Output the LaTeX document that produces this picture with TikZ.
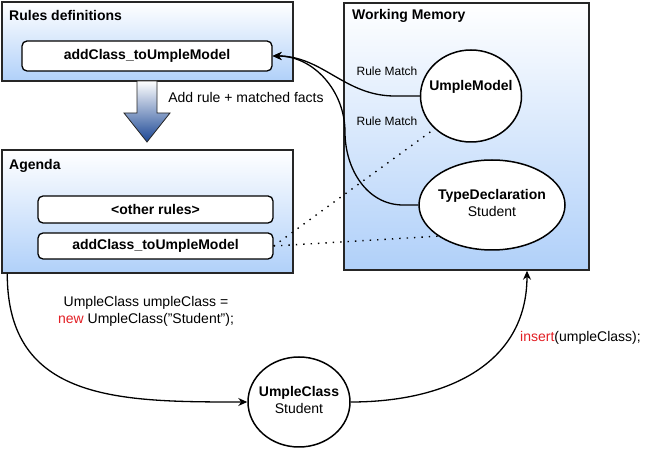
\documentclass[tikz,border=0pt]{standalone}
\usepackage{fontspec}
\setmainfont{Liberation Sans}
\usetikzlibrary{arrows.meta,shapes.geometric}
\definecolor{boxblue}{RGB}{176,208,249}
\definecolor{arrowblue}{RGB}{26,70,148}
\definecolor{codered}{RGB}{226,30,36}
\newcommand{\normalfnt}{\fontsize{14}{17}\selectfont}
\newcommand{\factname}[2]{\makebox[0pt]{\begin{tabular}{@{}c@{}}\textbf{#1}\\#2\end{tabular}}}
\tikzset{
	panel/.style={draw=black!85, line width=1.5pt, top color=white, bottom color=boxblue, inner sep=0pt},
	rulebox/.style={draw, line width=1.3pt, fill=white, rounded corners=5pt, inner sep=0pt, font=\normalfnt\bfseries},
	fact/.style={draw, line width=1.5pt, fill=white, ellipse, inner sep=0pt, font=\normalfnt},
	paneltitle/.style={anchor=west, inner sep=0pt, font=\normalfnt\bfseries},
	rmatch/.style={font=\fontsize{12}{14}\selectfont},
	link/.style={line width=1.3pt, -{Stealth[length=9pt,width=8pt]}},
	match/.style={line width=1.4pt, dash pattern=on 1.4pt off 6pt},
}

\begin{document}
\begin{tikzpicture}[x=1pt, y=1pt, font=\normalfnt]
			%%%%% START %%%%%
			\useasboundingbox (0, 0) rectangle (646, 450);
			
			% rules definitions
			\node[panel, minimum width=291pt, minimum height=79pt] (rules) at (147.5, 408.5) {};
			\node[paneltitle] (rulestitle) at (9, 434) {Rules definitions};
			\node[rulebox, minimum width=250pt, minimum height=30pt] (rdef) at (147, 394) {addClass\_toUmpleModel};
			
			\shade[top color=white, bottom color=arrowblue, draw=black!85, line width=0.8pt] (137, 369) -- (157, 369) -- (157, 337) -- (170, 337) -- (147, 308) -- (124, 337) -- (137, 337) -- cycle;
			\node (addlbl) at (246, 353) {Add rule + matched facts};
			
			% agenda
			\node[panel, minimum width=291pt, minimum height=123pt] (agenda) at (147.5, 238.5) {};
			\node[paneltitle] (agendatitle) at (9, 284) {Agenda};
			\node[rulebox, minimum width=235pt, minimum height=27pt] (aother) at (155.5, 240.5) {<other rules>};
			\node[rulebox, minimum width=235pt, minimum height=26pt] (aadd) at (155.5, 204) {addClass\_toUmpleModel};
			
			% working memory
			\node[panel, minimum width=245pt, minimum height=267pt] (wm) at (466.5, 313.5) {};
			\node[paneltitle] (wmtitle) at (352, 434) {Working Memory};
			\node[fact, minimum width=101pt, minimum height=92pt] (um) at (471, 354) {\factname{UmpleModel}{\strut}};
			\node[fact, minimum width=146pt, minimum height=90pt] (td) at (492, 245) {\factname{TypeDeclaration}{Student}};
			
			\node[rmatch] (rm1) at (387, 379) {Rule Match};
			\node[rmatch] (rm2) at (387, 329) {Rule Match};
			
			\draw[link] (um.west) -- ++(-25, 0) to[out=180, in=0] (rdef.east);
			\coordinate (bend) at (345, 318);
			\draw[link] (td.west) -- ++(-15, 0) to[out=180, in=-90] (bend) to[out=90, in=0] (rdef.east);
			
			\draw[match, shorten >=5pt] (aadd.east) -- (um.222);
			\draw[match] (aadd.east) -- (td.210);
			
			% new fact
			\node[fact, minimum width=102pt, minimum height=90pt] (uc) at (299, 48) {\factname{UmpleClass}{Student}};
			\node[align=center] (newlbl) at (146, 138.5) {UmpleClass umpleClass =\\\textcolor{codered}{new} UmpleClass("Student");};
			\node[anchor=west, inner sep=0pt] (inslbl) at (520, 112) {\textcolor{codered}{insert}(umpleClass);};
			
			\coordinate (agout) at ([xshift=6pt]agenda.south west);
			\coordinate (wmin) at ([xshift=60.5pt]wm.south);
			\draw[link] (agout) to[out=-90, in=180, looseness=1.2] (uc.west);
			\draw[link] (uc.east) to[out=0, in=-90, looseness=1.1] (wmin);
			
			%%%%% END %%%%%
		\end{tikzpicture}
\end{document}
